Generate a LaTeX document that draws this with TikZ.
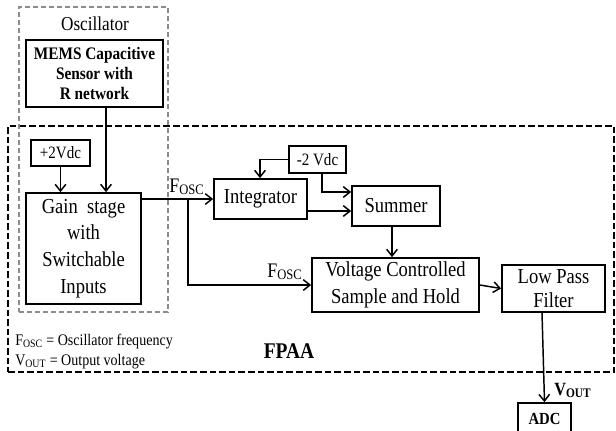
\documentclass[tikz,border=0pt]{standalone}
\usepackage{fontspec}
\setmainfont[FakeStretch=0.87]{Liberation Serif}
\usetikzlibrary{arrows.meta}
\begin{document}
\begin{tikzpicture}[x=0.75pt,y=-0.75pt,
  box/.style={draw, line width=1.3pt, inner sep=0pt, align=center},
  main/.style={font=\fontsize{16}{20}\selectfont},
  conn/.style={line width=1.1pt},
  arr/.style={line width=1.1pt, -{Straight Barb[length=5pt,width=8pt]}},
  fpaabox/.style={draw, line width=1.3pt, dash pattern=on 5pt off 2.2pt, inner sep=0pt},
  oscbox/.style={draw=black!45, line width=1.1pt, dash pattern=on 4pt off 2pt, inner sep=0pt},
  lbl/.style={inner sep=0pt, anchor=base west}]
\useasboundingbox (0,0) rectangle (616,430);

% dashed group boxes
\node[fpaabox, minimum width=454.5pt, minimum height=184.5pt] (fpaa) at (311,249) {};
\node[oscbox, minimum width=111.75pt, minimum height=228.75pt] (osc) at (93.5,159.5) {};
\node[inner sep=0pt, font=\fontsize{14.8}{17}\selectfont] (osclbl) at (95,24) {Oscillator};

% blocks
\node[box, minimum width=102.75pt, minimum height=50.25pt, font=\bfseries\fontsize{13.2}{15}\selectfont] (mems) at (94.5,73.5) {MEMS Capacitive\\Sensor with\\R network};
\node[box, minimum width=44.25pt, minimum height=19.5pt, font=\fontsize{13}{15}\selectfont] (p2) at (60.5,153) {+2Vdc};
\node[box, main, minimum width=86.25pt, minimum height=83.25pt] (gain) at (83.5,248.5) {Gain\ \ stage\\with\\Switchable\\Inputs};
\node[box, main, minimum width=69.75pt, minimum height=30pt] (int) at (260.5,199) {Integrator};
\node[box, minimum width=42.75pt, minimum height=20.25pt, font=\fontsize{13}{15}\selectfont] (m2) at (317.5,159.5) {-2 Vdc};
\node[box, main, minimum width=66pt, minimum height=30pt] (sum) at (396,206) {Summer};
\node[box, main, minimum width=125.25pt, minimum height=40.5pt] (vcsh) at (395.5,285) {Voltage Controlled\\Sample and Hold};
\node[box, font=\fontsize{16}{18}\selectfont, minimum width=77.25pt, minimum height=35.25pt] (lpf) at (553.5,288.5) {Low Pass\\Filter};
\node[box, minimum width=39.75pt, minimum height=24pt, font=\bfseries\fontsize{12.7}{15}\selectfont] (adc) at (544.5,419) {ADC};

% helper coordinates
\coordinate (c1) at (106,0);
\coordinate (j) at (188,199);
\coordinate (c2) at (260,0);
\coordinate (c3) at (322,192);
\coordinate (c4) at (0,211);
\coordinate (c5) at (392,0);
\coordinate (c6) at (542,0);

% connectors
\draw[arr] (mems.south -| c1) -- (gain.north -| c1);
\draw[arr] (p2.south) -- (gain.north -| p2.south);
\draw[conn] (gain.east |- j) -- (j);
\draw[arr] (j) -- (int.west);
\draw[arr] (j) -- (j |- vcsh.west) -- (vcsh.west);
\draw[arr] (m2.west) -- (m2.west -| c2) -- (int.north -| c2);
\draw[arr] (m2.south -| c3) -- (c3) -- (sum.west |- c3);
\draw[arr] (int.east |- c4) -- (sum.west |- c4);
\draw[arr] (sum.south -| c5) -- (vcsh.north -| c5);
\draw[arr] (vcsh.east) -- (lpf.west);
\draw[arr] (lpf.south -| c6) -- (adc.north);

% labels
\node[lbl, font=\fontsize{15.5}{18}\selectfont] (f1) at (169,192) {F\textsubscript{OSC}};
\node[lbl, font=\fontsize{15.5}{18}\selectfont] (f2) at (267,277) {F\textsubscript{OSC}};
\node[lbl, font=\bfseries\fontsize{14}{16}\selectfont] (vout) at (554,395) {V\textsubscript{OUT}};
\node[inner sep=0pt, font=\bfseries\fontsize{16.8}{19}\selectfont] (fpaalbl) at (289,351) {FPAA};
\node[lbl, font=\fontsize{12.1}{14}\selectfont] (leg1) at (15,345) {F\textsubscript{OSC} = Oscillator frequency};
\node[lbl, font=\fontsize{12.1}{14}\selectfont] (leg2) at (15,365) {V\textsubscript{OUT} = Output voltage};
\end{tikzpicture}
\end{document}
